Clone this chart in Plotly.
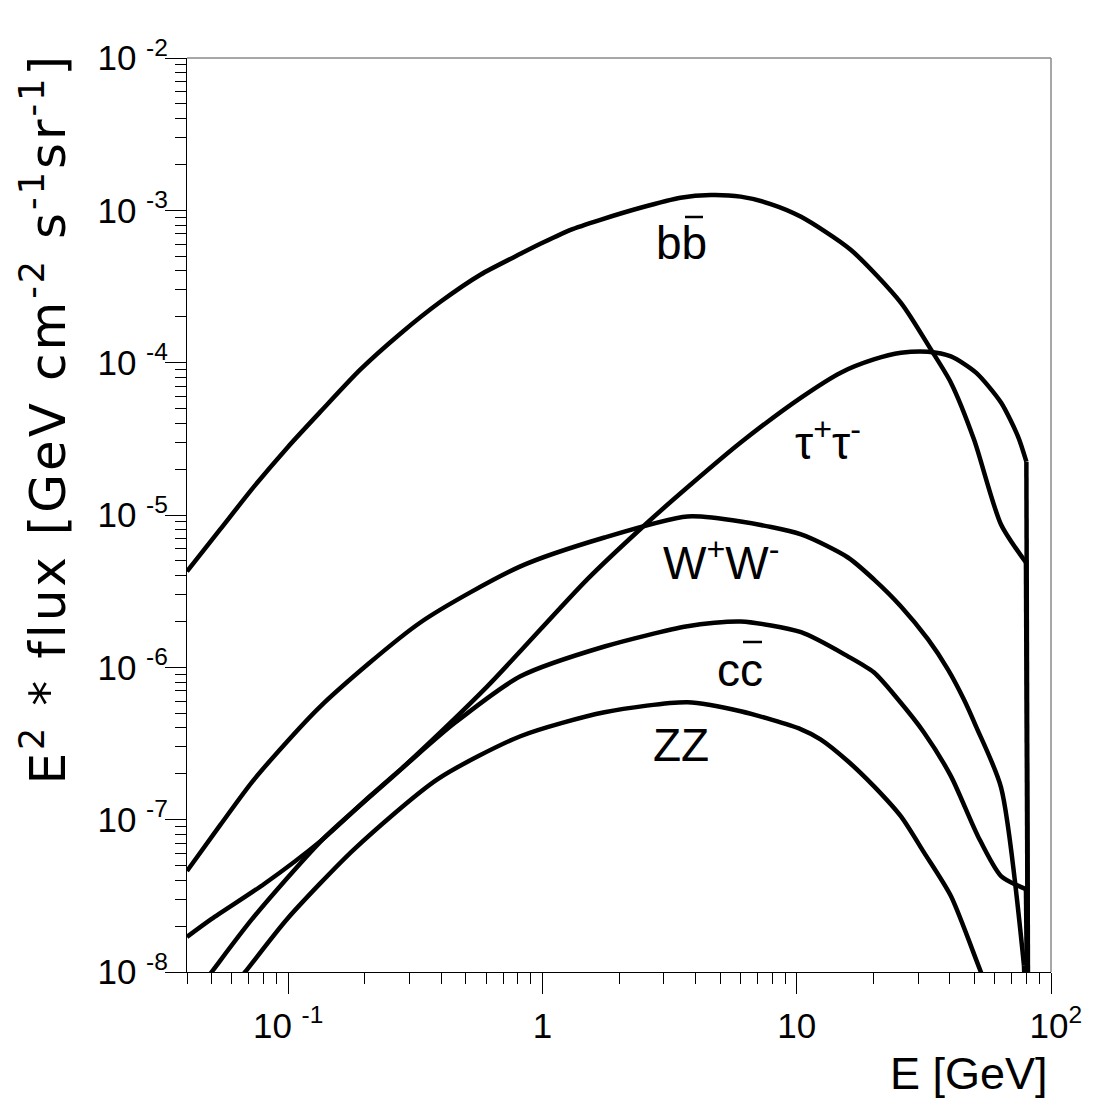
import math
import plotly.graph_objects as go

# ---------------- data ----------------
E_bb = [0.04, 0.054, 0.0735, 0.1, 0.134, 0.192, 0.276, 0.397, 0.57, 0.819, 1.0, 1.29,
        1.69, 2.43, 3.49, 4.59, 6.02, 7.9, 10.4, 16.3, 25.7, 33.7, 40.4, 49.8, 63.6, 79.7, 81.5]
F_bb = [4.26e-6, 8.04e-6, 1.54e-5, 2.81e-5, 4.77e-5, 9.0e-5, 1.55e-4, 2.51e-4, 3.78e-4,
        5.18e-4, 6.12e-4, 7.45e-4, 8.67e-4, 1.04e-3, 1.21e-3, 1.26e-3, 1.23e-3, 1.10e-3,
        9.07e-4, 5.51e-4, 2.47e-4, 1.22e-4, 7.39e-5, 3.13e-5, 8.66e-6, 4.88e-6, 1e-9]

E_tt = [0.043, 0.05, 0.0722, 0.137, 0.286, 0.607, 1.50, 2.59, 3.72, 6.02, 10.4, 14.9,
        20.1, 25.7, 32.8, 40.4, 50.7, 63.6, 74.2, 80.0, 81.5]
F_tt = [7.17e-9, 1.0e-8, 2.23e-8, 7.45e-8, 2.24e-7, 7.5e-7, 3.78e-6, 8.93e-6, 1.52e-5,
        2.99e-5, 5.9e-5, 8.6e-5, 1.05e-4, 1.16e-4, 1.18e-4, 1.10e-4, 8.6e-5, 5.47e-5,
        3.27e-5, 2.24e-5, 1e-9]

E_ww = [0.04, 0.054, 0.0735, 0.134, 0.331, 0.819, 1.754, 3.72, 6.02, 10.4, 15.9, 20.1,
        25.7, 32.8, 39.3, 45.4, 50.7, 63.6, 78.3, 81.5]
F_ww = [4.6e-8, 9.2e-8, 1.84e-7, 5.55e-7, 1.97e-6, 4.6e-6, 7.12e-6, 9.78e-6, 9.07e-6,
        7.45e-6, 5.26e-6, 3.78e-6, 2.51e-6, 1.53e-6, 9.7e-7, 6.17e-7, 4.1e-7, 1.63e-7,
        1.1e-8, 1e-9]

E_cc = [0.04, 0.05, 0.0804, 0.134, 0.210, 0.286, 0.450, 0.819, 1.754, 3.72, 6.02, 10.4,
        15.9, 20.1, 25.0, 31.6, 40.4, 51.6, 63.6, 79.7, 81.5]
F_cc = [1.70e-8, 2.23e-8, 3.78e-8, 7.23e-8, 1.43e-7, 2.24e-7, 4.29e-7, 8.73e-7, 1.37e-6,
        1.86e-6, 2.0e-6, 1.70e-6, 1.18e-6, 9.27e-7, 6.17e-7, 3.75e-7, 1.93e-7, 7.79e-8,
        4.26e-8, 3.5e-8, 1e-9]

E_zz = [0.0565, 0.0677, 0.0991, 0.182, 0.386, 0.819, 1.754, 3.72, 6.02, 10.4, 12.4, 15.9,
        20.1, 25.7, 31.6, 40.4, 53.0, 58.0]
F_zz = [6.9e-9, 1.0e-8, 2.23e-8, 6.41e-8, 1.84e-7, 3.53e-7, 5.07e-7, 5.9e-7, 5.15e-7,
        3.92e-7, 3.37e-7, 2.42e-7, 1.66e-7, 1.05e-7, 6.12e-8, 3.15e-8, 1.0e-8, 7.0e-9]

x_tickvals = [0.1, 1, 10, 100]
x_ticktext = ["10\u00a0<sup>-1</sup>", "1", "10", "\u00a010<sup>2</sup>"]
y_tickvals = [1e-8, 1e-7, 1e-6, 1e-5, 1e-4, 1e-3, 1e-2]
y_ticktext = ["10\u00a0<sup>-%d</sup>" % k for k in range(8, 1, -1)]

x_minor = [0.04] + [k * 10.0 ** d for d in (-2, -1, 0, 1) for k in range(2, 10)
                    if 0.04 < k * 10.0 ** d < 100]
y_minor = [k * 10.0 ** d for d in range(-8, -2) for k in range(2, 10)]

# ---------------- figure ----------------
L, R, T, B = 187, 49, 58, 128
W = H = 1100
PW, PH = W - L - R, H - T - B


def px(x):
    return (x - L) / PW


def py(y):
    return (H - B - y) / PH


FONT = "Liberation Sans, Arial, Helvetica, sans-serif"
LINE = dict(color="black", width=4.5)
fig = go.Figure()
# curves whose last point is the kinematic cut-off (vertical drop at the endpoint)
for E, F in [(E_bb, F_bb), (E_tt, F_tt), (E_ww, F_ww), (E_cc, F_cc)]:
    fig.add_trace(go.Scatter(x=E[:-1], y=F[:-1], mode="lines", hoverinfo="skip",
                             line=dict(shape="spline", smoothing=0.7, **LINE)))
    fig.add_trace(go.Scatter(x=E[-2:], y=F[-2:], mode="lines", hoverinfo="skip",
                             line=LINE))
fig.add_trace(go.Scatter(x=E_zz, y=F_zz, mode="lines", hoverinfo="skip",
                         line=dict(shape="spline", smoothing=0.7, **LINE)))

axis_common = dict(showgrid=False, zeroline=False, showline=True, linecolor="black",
                   linewidth=1.2, ticks="outside", ticklen=21, tickwidth=1.2,
                   tickcolor="black", tickfont=dict(family=FONT, size=35, color="black"))

fig.update_xaxes(type="log", range=[math.log10(0.04), 2], tickmode="array",
                 tickvals=x_tickvals, ticktext=x_ticktext, ticklabelstandoff=2,
                 minor=dict(tickmode="array", tickvals=x_minor, ticks="outside",
                            ticklen=11, tickwidth=1.2, tickcolor="black", showgrid=False),
                 **axis_common)
fig.update_yaxes(type="log", range=[-8, -2], tickmode="array",
                 tickvals=y_tickvals, ticktext=y_ticktext, ticklabelstandoff=-10,
                 minor=dict(tickmode="array", tickvals=y_minor, ticks="outside",
                            ticklen=11, tickwidth=1.2, tickcolor="black", showgrid=False),
                 **axis_common)

lab = dict(family=FONT, size=46, color="black")
ann = [
    dict(text="bb", x=px(681), y=py(243), font=lab),
    dict(text="\u03c4<sup>+</sup>\u03c4<sup>-</sup>", x=px(828), y=py(440), font=lab),
    dict(text="W<sup>+</sup>W<sup>-</sup>", x=px(721), y=py(560), font=lab),
    dict(text="cc", x=px(740), y=py(670), font=lab),
    dict(text="ZZ", x=px(681), y=py(745), font=lab),
]
for a in ann:
    fig.add_annotation(xref="paper", yref="paper", showarrow=False,
                       xanchor="center", yanchor="middle", **a)

fig.add_annotation(text="E [GeV]", xref="paper", yref="paper", x=px(1050), y=py(1073),
                   xanchor="right", yanchor="middle", showarrow=False,
                   font=dict(family=FONT, size=45, color="black"))
fig.add_annotation(text="<span style='letter-spacing:3px'>E<sup>2</sup> * flux [GeV cm<sup>-2</sup> "
                        "s<sup>-1</sup>sr<sup>-1</sup>]</span>",
                   xref="paper", yref="paper", x=px(44), y=py(52), textangle=-90,
                   xanchor="center", yanchor="top", showarrow=False,
                   font=dict(family="DejaVu Sans, sans-serif", size=50, color="black"))

shapes = [
    # frame top / right
    dict(type="line", xref="paper", yref="paper", x0=0, x1=1, y0=1, y1=1,
         line=dict(color="#8a8a8a", width=1.5)),
    dict(type="line", xref="paper", yref="paper", x0=1, x1=1, y0=0, y1=1,
         line=dict(color="#8a8a8a", width=1.5)),
    # anti-quark bars
    dict(type="line", xref="paper", yref="paper", x0=px(685), x1=px(703), y0=py(217), y1=py(217),
         line=dict(color="black", width=2.5)),
    dict(type="line", xref="paper", yref="paper", x0=px(743), x1=px(762), y0=py(642), y1=py(642),
         line=dict(color="black", width=2.5)),
]
fig.update_layout(shapes=shapes, width=W, height=H, autosize=False, showlegend=False,
                  margin=dict(l=L, r=R, t=T, b=B, pad=0),
                  paper_bgcolor="white", plot_bgcolor="white")

fig.write_html("out.html")
